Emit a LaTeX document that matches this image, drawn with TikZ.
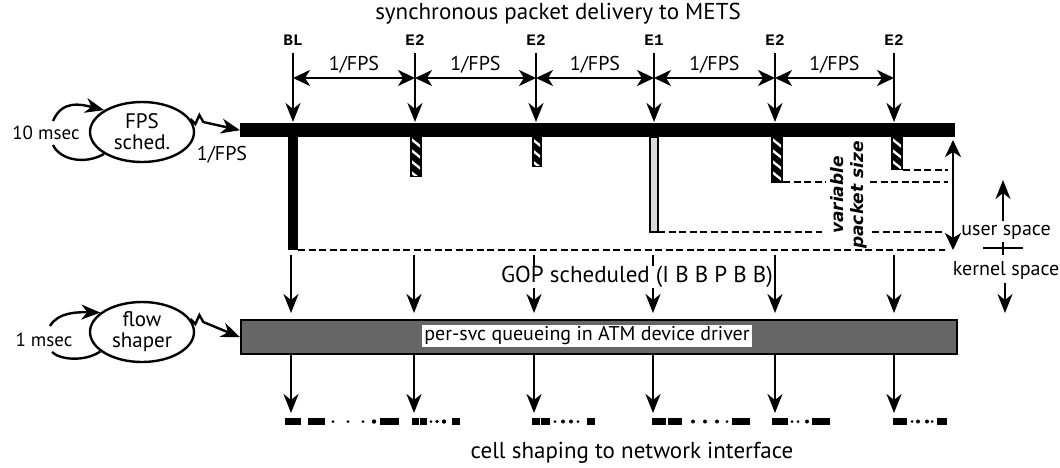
\documentclass[tikz,border=0pt]{standalone}
\usepackage{fontspec}
\setmainfont{PT Sans}
\newfontfamily\codefont{Liberation Mono}
\newfontfamily\notefont{DejaVu Sans}
\usetikzlibrary{arrows.meta,shapes.geometric,calc}

\tikzset{
  wire/.style={line width=2.4pt},
  tip/.style={wire,-{Stealth[length=19pt,width=15pt,inset=6pt]}},
  dtip/.style={wire,{Stealth[length=17pt,width=16pt,inset=5pt]}-{Stealth[length=17pt,width=16pt,inset=5pt]}},
  level/.style={line width=1.8pt,dash pattern=on 7pt off 3.5pt},
  txt/.style={font=\fontsize{23}{26}\selectfont},
  small/.style={font=\fontsize{20}{22}\selectfont},
  code/.style={font=\codefont\bfseries\fontsize{16}{18}\selectfont},
  proc/.style={ellipse,draw,line width=2.4pt,minimum width=104pt,minimum height=60pt,
    align=center,inner sep=0pt,font=\fontsize{21}{21}\selectfont},
}

% x, half width, bottom
\newcommand{\hatchbar}[3]{%
  \fill (#1-#2,137) rectangle (#1+#2,#3);
  \begin{scope}
    \clip (#1-#2+2,137) rectangle (#1+#2-2,#3-2);
    \foreach \k in {0,...,5}
      \draw[white,line width=2.4pt] (#1-10,135+\k*11) -- (#1+10,151+\k*11);
  \end{scope}}

\begin{document}
\begin{tikzpicture}[x=1pt,y=-1pt]
  \useasboundingbox (0,0) rectangle (1060,467);

  %%%%% frames %%%%%
  \node[txt] (title) at (558,14) {synchronous packet delivery to METS};

  \foreach \x/\f [count=\i] in {293/BL,415/E2,536/E2,654/E1,775/E2,894/E2} {
    \node[code] (f\i) at (\x,40) {\f};
    \coordinate (t\i) at (\x,53);
    \coordinate (d\i) at (\x,78);
    \coordinate (a\i) at (\x,122);
    \draw[tip] (t\i) -- (a\i);
  }
  \foreach \i [evaluate=\i as \j using int(\i+1)] in {1,...,5}
    \draw[dtip] (d\i) -- (d\j) node[small,midway,above=0pt] (p\i) {1/FPS};

  %%%%% user space queue %%%%%
  \node[fill=black,inner sep=0pt,minimum width=715pt,minimum height=14pt,anchor=north west] (userq) at (240,123) {};

  \fill (288,137) rectangle (298,250);
  \hatchbar{416}{6}{177}
  \hatchbar{537}{5}{167}
  \filldraw[fill=black!15,line width=1.2pt] (650,137) rectangle (658,232);
  \hatchbar{777}{6}{183}
  \hatchbar{897}{6}{170}

  \draw[level] (298,250) -- (945,250);
  \draw[level] (658,232) -- (822,232);
  \draw[level] (872,232) -- (945,232);
  \draw[level] (783,182) -- (826,182);
  \draw[level] (870,182) -- (948,182);
  \draw[level] (903,170) -- (948,170);

  \node[rotate=90,align=center,font=\notefont\bfseries\itshape\fontsize{17}{20}\selectfont] (vsize) at (849,195) {variable\\packet size};
  \draw[dtip] (953,140) -- (953,250);

  %%%%% user / kernel %%%%%
  \node[small] (user) at (1006,232) {user space};
  \node[small] (kern) at (1006,270) {kernel space};
  \draw[wire] (983,248) -- (1023,248);
  \draw[wire] (1003,242) -- (1003,255);
  \coordinate (up) at (1003,180);
  \coordinate (dn) at (1005,313);
  \draw[tip] (user.north -| up) -- (up);
  \draw[tip] (kern.south -| dn) -- (dn);

  %%%%% kernel queue %%%%%
  \node[draw,line width=2.4pt,fill=black!60,inner sep=0pt,minimum width=716pt,minimum height=34pt,anchor=north west] (kernq) at (240,319) {};
  \node[small,fill=white,inner sep=2pt] (drv) at (587,336) {per-svc queueing in ATM device driver};

  %%%%% schedulers %%%%%
  \node[proc] (fps) at (142,132) {FPS\\sched.};
  \node[txt,font=\fontsize{19}{22}\selectfont] (tick1) at (46,133) {10 msec};
  \draw[tip] (53,121) .. controls (62,100) and (80,104) .. (fps.150);
  \draw[wire] (fps.210) .. controls (85,165) and (60,160) .. (53,145);
  \draw[tip] (fps.15) -- ++(5,5) -- ++(4,-9) -- ++(4,7) -- (userq.west);
  \node[small] (rate) at (222,155) {1/FPS};

  \node[proc] (flow) at (142,332) {flow\\shaper};
  \node[txt,font=\fontsize{19}{22}\selectfont] (tick2) at (44,340) {1 msec};
  \draw[tip] (50,326) .. controls (58,312) and (78,312) .. (flow.155);
  \draw[wire] (flow.205) .. controls (85,362) and (60,360) .. (52,352);
  \draw[tip] (flow.15) -- ++(5,5) -- ++(4,-9) -- ++(4,7) -- (kernq.west);

  \foreach \x [count=\i] in {291,414,534,653,775,894} {
    \coordinate (g\i) at (\x,255);
    \coordinate (q\i) at (\x,313);
    \coordinate (h\i) at (\x,413);
  }
  \foreach \i in {1,...,4} \draw[tip] (g\i) -- (q\i);
  \node[txt,fill=white,inner sep=0pt] (gop) at (637,277) {GOP scheduled (I B B P B B)};
  \foreach \i in {5,6} \draw[tip] (g\i) -- (q\i);
  \foreach \i in {1,...,6} \draw[tip] (g\i |- kernq.south) -- (h\i);

  %%%%% cells %%%%%
  \foreach \x/\w in {285/16,308/17,380/19,412/7,420/7,452/8,532/8,541/9,587/8,652/14,668/14,732/18,772/8,780/8,812/18,893/7,900/7,937/10}
    \fill (\x,418) rectangle ++(\w,7);
  \foreach \x/\r in {333/1.5,348/1.5,363/1.5,374/2.2,431/1.5,437/1.8,444/2.2,555/1.5,563/2,571/2,578/1.5,693/2,705/2,717/2,727/1.5,792/1.5,798/1.5,807/2,912/1.5,918/2,927/2,932/1.5}
    \fill (\x,421.5) circle (\r);

  \node[txt] (shape) at (632,453) {cell shaping to network interface};
\end{tikzpicture}
\end{document}
